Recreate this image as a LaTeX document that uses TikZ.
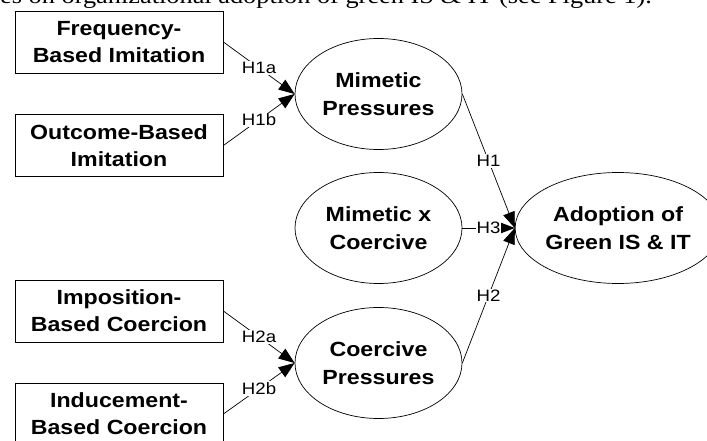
\documentclass[tikz,border=0pt]{standalone}
\usepackage{fontspec}
\setmainfont{Liberation Sans}
\newfontfamily\figfont[FakeStretch=1.13]{Liberation Sans}
\newfontfamily\bodyfont[FakeStretch=1.13]{Liberation Serif}
\usetikzlibrary{shapes.geometric,arrows.meta}
\tikzset{
  box/.style={draw, line width=0.8pt, minimum width=208pt, minimum height=62pt,
    inner sep=0pt, align=center, font=\figfont\bfseries\fontsize{20.5}{26.7}\selectfont},
  oval/.style={draw, ellipse, line width=0.7pt, minimum width=167pt, minimum height=111pt,
    inner sep=0pt, align=center, font=\figfont\bfseries\fontsize{20.5}{27.5}\selectfont},
  hyp/.style={-{Triangle[length=16pt,width=12pt]}, line width=0.7pt},
  lab/.style={fill=white, inner sep=1pt, font=\figfont\fontsize{16.5}{19}\selectfont}
}
\begin{document}
\begin{tikzpicture}[x=1pt,y=-1pt]
\useasboundingbox (0,0) rectangle (707,441);
\clip (0,0) rectangle (707,441);
\node[anchor=base west, inner sep=0pt, font=\bodyfont\fontsize{23.3}{28}\selectfont] (top) at (0,4)
  {es on organizational adoption of green IS \& IT (see Figure 1).};
\node[box] (freq) at (119,42) {Frequency-\\Based Imitation};
\node[box] (outc) at (119,145.5) {Outcome-Based\\Imitation};
\node[box] (impo) at (119,311) {Imposition-\\Based Coercion};
\node[box] (indu) at (119,414) {Inducement-\\Based Coercion};
\node[oval] (mim) at (378.5,94) {Mimetic\\Pressures};
\node[oval] (mxc) at (378.5,228) {Mimetic x\\Coercive};
\node[oval] (coe) at (378.5,363) {Coercive\\Pressures};
\node[oval, minimum width=168pt] (adop) at (618,228) {Adoption of\\Green IS \& IT};
\draw[hyp] (freq.east) -- node[lab] {H1a} (mim.west);
\draw[hyp] (outc.east) -- node[lab] {H1b} (mim.west);
\draw[hyp] (impo.east) -- node[lab] {H2a} (coe.west);
\draw[hyp] (indu.east) -- node[lab] {H2b} (coe.west);
\draw[hyp] (mim.east) -- node[lab] {H1} (adop.west);
\draw[hyp] (mxc.east) -- node[lab] {H3} (adop.west);
\draw[hyp] (coe.east) -- node[lab] {H2} (adop.west);
\end{tikzpicture}
\end{document}
